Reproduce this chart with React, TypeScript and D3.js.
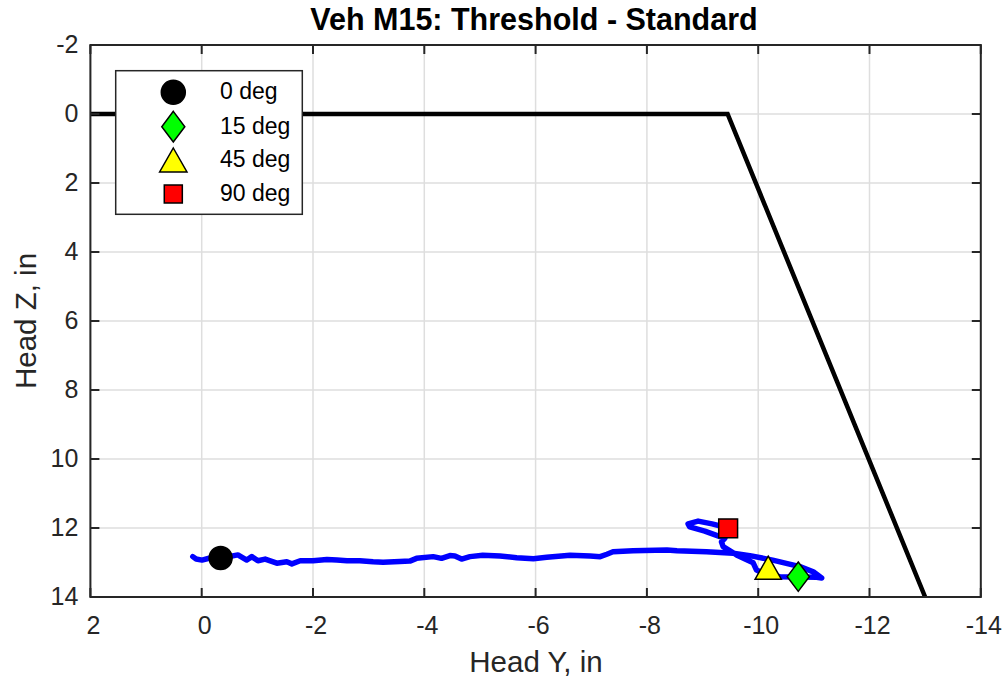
import React from "react";
import * as d3 from "d3";

const TITLE = "Veh M15: Threshold - Standard";
const X_LABEL = "Head Y, in";
const Y_LABEL = "Head Z, in";
const X_TICKS = [2, 0, -2, -4, -6, -8, -10, -12, -14];
const Y_TICKS = [-2, 0, 2, 4, 6, 8, 10, 12, 14];

// Boundary (black) line
const boundaryY = [2, -9.45, -13.0];
const boundaryZ = [0, 0, 14];

// Head trace (blue)
const traceY = [
  0.16, 0.1, -0.005, -0.15, -0.36, -0.65, -0.81, -0.9, -1.01, -1.14, -1.35, -1.53, -1.62, -1.77,
  -2.0, -2.25, -2.43, -2.61, -2.84, -3.08, -3.26, -3.56, -3.74, -3.86, -4.16, -4.31, -4.46, -4.55,
  -4.67, -4.82, -5.05, -5.36, -5.66, -5.96, -6.2, -6.62, -6.98, -7.16, -7.28, -7.39, -7.75, -8.36,
  -8.54, -9.07, -9.55, -9.85, -10.26, -10.75, -10.99, -11.14, -11.05, -10.75, -10.39, -10.12,
  -9.97, -9.91, -9.61, -9.37, -9.34, -9.4, -9.04, -8.77, -8.74, -8.92, -9.17, -9.46,
];
const traceZ = [
  12.83, 12.9, 12.93, 12.87, 12.87, 12.78, 12.93, 12.83, 12.95, 12.9, 13.02, 12.98, 13.04, 12.95,
  12.95, 12.91, 12.93, 12.95, 12.95, 12.98, 12.99, 12.97, 12.96, 12.88, 12.83, 12.88, 12.8, 12.81,
  12.9, 12.83, 12.79, 12.81, 12.86, 12.89, 12.85, 12.79, 12.81, 12.83, 12.76, 12.69, 12.66, 12.64,
  12.66, 12.69, 12.73, 12.8, 12.93, 13.12, 13.27, 13.45, 13.43, 13.42, 13.41, 13.33,
  13.22, 13.01, 12.78, 12.54, 12.4, 12.3, 12.09, 11.97, 11.88, 11.8, 11.88, 12.0,
];

// Angle markers
const markerLabels = ["0 deg", "15 deg", "45 deg", "90 deg"];
const markerShapes = ["circle", "diamond", "triangle", "square"];
const markerColors = ["#000000", "#00ff00", "#ffff00", "#ff0000"];
const markerY = [-0.34, -10.72, -10.18, -9.46];
const markerZ = [12.87, 13.41, 13.15, 12.01];

const W = 1005;
const H = 688;
const M = { left: 90.4, right: 980.8, top: 45, bottom: 597 };
const FONT = "'Liberation Sans', Arial, Helvetica, sans-serif";
const AXC = "#262626";

function markerPath(shape: string, s: number): string {
  if (shape === "circle") {
    const r = s * 0.5;
    return `M${r},0A${r},${r} 0 1,1 ${-r},0A${r},${r} 0 1,1 ${r},0Z`;
  }
  if (shape === "diamond") {
    const w = s * 0.48, h = s * 0.64;
    return `M0,${-h}L${w},0L0,${h}L${-w},0Z`;
  }
  if (shape === "triangle") {
    const w = s * 0.57, h = s * 0.5;
    return `M0,${-h}L${w},${h}L${-w},${h}Z`;
  }
  const a = s * 0.41;
  return `M${-a},${-a}L${a},${-a}L${a},${a}L${-a},${a}Z`;
}

export default function App() {
  const x = d3.scaleLinear().domain([2, -14]).range([M.left, M.right]);
  const y = d3.scaleLinear().domain([-2, 14]).range([M.top, M.bottom]);

  const line = d3
    .line<number>()
    .x((i) => x(traceY[i]))
    .y((i) => y(traceZ[i]))
    .curve(d3.curveLinear);
  const bline = d3
    .line<number>()
    .x((i) => x(boundaryY[i]))
    .y((i) => y(boundaryZ[i]));

  const tickLen = 9;
  const legend = { x: 115.7, y: 70.7, w: 186.6, h: 143.6 };
  const legendRows = [92.3, 126.7, 160, 194];

  return (
    <svg width={W} height={H} style={{ position: "absolute", left: 0, top: 0, background: "#fff" }}>
      <defs>
        <clipPath id="plotclip">
          <rect x={M.left} y={M.top} width={M.right - M.left} height={M.bottom - M.top} />
        </clipPath>
      </defs>
      <rect x={0} y={0} width={W} height={H} fill="#fff" />
      {/* grid */}
      {X_TICKS.map((t) => (
        <line key={"gx" + t} x1={x(t)} x2={x(t)} y1={M.top} y2={M.bottom} stroke="#dedede" strokeWidth={1.5} />
      ))}
      {Y_TICKS.map((t) => (
        <line key={"gy" + t} x1={M.left} x2={M.right} y1={y(t)} y2={y(t)} stroke="#dedede" strokeWidth={1.5} />
      ))}
      <g clipPath="url(#plotclip)">
        <path d={bline(d3.range(boundaryY.length)) || ""} fill="none" stroke="#000" strokeWidth={4.5} strokeLinejoin="miter" />
        <path d={line(d3.range(traceY.length)) || ""} fill="none" stroke="#0000ff" strokeWidth={5.5} strokeLinejoin="round" strokeLinecap="round" />
      </g>
      {markerY.map((v, i) => (
        <path
          key={"m" + i}
          d={markerPath(markerShapes[i], 23)}
          transform={`translate(${x(v)},${y(markerZ[i])})`}
          fill={markerColors[i]}
          stroke="#000"
          strokeWidth={1.5}
        />
      ))}
      {/* axes box */}
      <rect x={M.left} y={M.top} width={M.right - M.left} height={M.bottom - M.top} fill="none" stroke={AXC} strokeWidth={2} />
      {X_TICKS.map((t) => (
        <g key={"tx" + t}>
          <line x1={x(t)} x2={x(t)} y1={M.bottom} y2={M.bottom - tickLen} stroke={AXC} strokeWidth={2} />
          <line x1={x(t)} x2={x(t)} y1={M.top} y2={M.top + tickLen} stroke={AXC} strokeWidth={2} />
          <text x={x(t) + 3} y={M.bottom + 30} textAnchor="middle" dominantBaseline="middle" fontFamily={FONT} fontSize={25} fill={AXC}>
            {t}
          </text>
        </g>
      ))}
      {Y_TICKS.map((t) => (
        <g key={"ty" + t}>
          <line x1={M.left} x2={M.left + tickLen} y1={y(t)} y2={y(t)} stroke={AXC} strokeWidth={2} />
          <line x1={M.right} x2={M.right - tickLen} y1={y(t)} y2={y(t)} stroke={AXC} strokeWidth={2} />
          <text x={M.left - 12} y={y(t) + 1} textAnchor="end" dominantBaseline="middle" fontFamily={FONT} fontSize={25} fill={AXC}>
            {t}
          </text>
        </g>
      ))}
      {/* title & labels */}
      <text x={534} y={22} textAnchor="middle" dominantBaseline="middle" fontFamily={FONT} fontSize={30.5} fontWeight="bold" fill="#000">
        {TITLE}
      </text>
      <text x={536} y={664} textAnchor="middle" dominantBaseline="middle" fontFamily={FONT} fontSize={29.5} fill={AXC}>
        {X_LABEL}
      </text>
      <text
        transform={`translate(28,${(M.top + M.bottom) / 2}) rotate(-90)`}
        textAnchor="middle"
        dominantBaseline="middle"
        fontFamily={FONT}
        fontSize={29.5}
        fill={AXC}
      >
        {Y_LABEL}
      </text>
      {/* legend */}
      <rect x={legend.x} y={legend.y} width={legend.w} height={legend.h} fill="#fff" stroke={AXC} strokeWidth={1.5} />
      {markerLabels.map((lab, i) => (
        <g key={"l" + i}>
          <path
            d={markerPath(markerShapes[i], markerShapes[i] === "square" ? 22 : 24)}
            transform={`translate(173.3,${legendRows[i]})`}
            fill={markerColors[i]}
            stroke="#000"
            strokeWidth={1.5}
          />
          <text x={220} y={legendRows[i] + 1} dominantBaseline="middle" fontFamily={FONT} fontSize={23} fill="#000">
            {lab}
          </text>
        </g>
      ))}
    </svg>
  );
}
